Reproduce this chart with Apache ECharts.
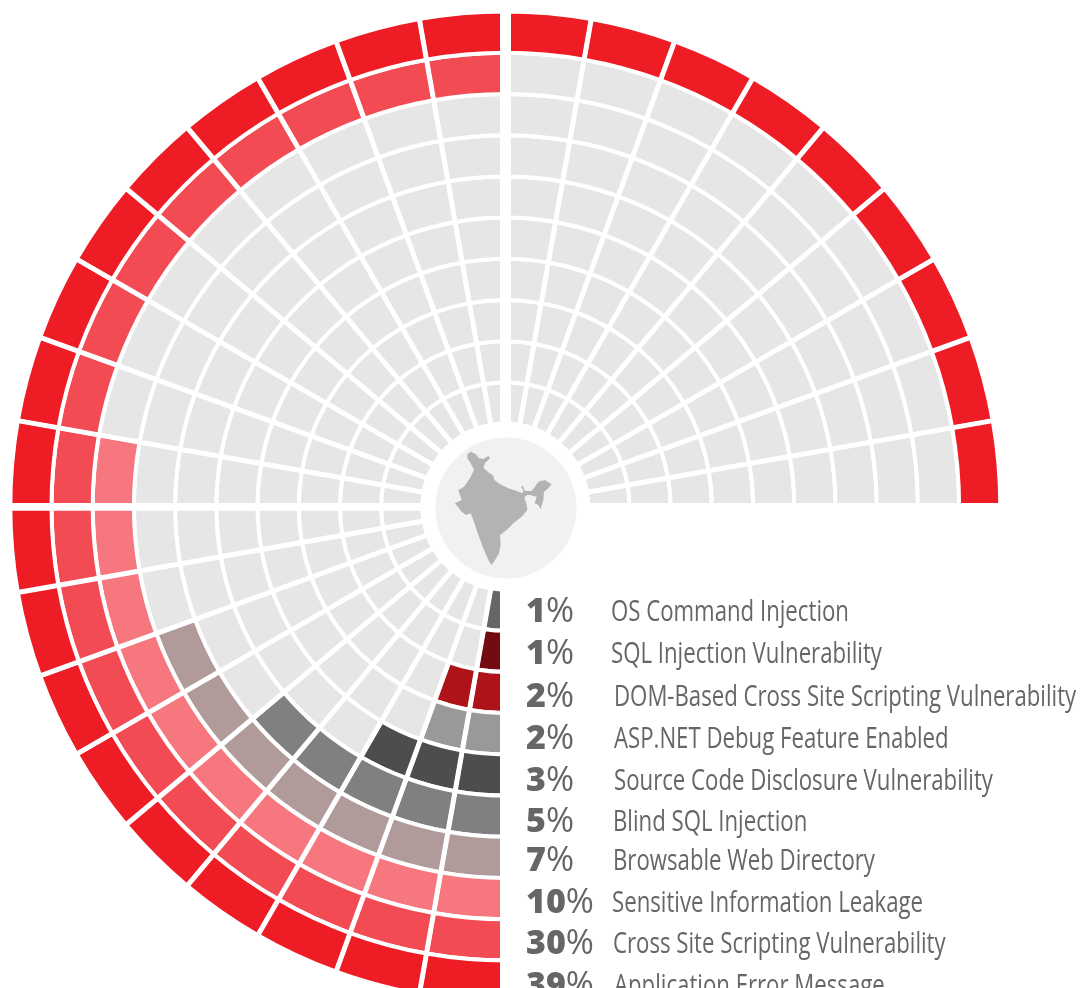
<!DOCTYPE html>
<html>
<head>
<meta charset="utf-8">
<title>Vulnerabilities</title>
<script src="https://cdn.jsdelivr.net/npm/echarts@6/dist/echarts.min.js"></script>
<style>
  html, body { margin: 0; padding: 0; background: #fff; }
  #chart { width: 1085px; height: 988px; }
</style>
</head>
<body>
<div id="chart"></div>
<script>
// innermost ring first, same order as the list under the chart
var categories = ['OS Command Injection', 'SQL Injection Vulnerability', 'DOM-Based Cross Site Scripting Vulnerability', 'ASP.NET Debug Feature Enabled', 'Source Code Disclosure Vulnerability', 'Blind SQL Injection', 'Browsable Web Directory', 'Sensitive Information Leakage', 'Cross Site Scripting Vulnerability', 'Application Error Message'];
var percents = [1, 1, 2, 2, 3, 5, 7, 10, 30, 39];
// how many cells of each ring are coloured, counted clockwise from 6 o'clock
var litCells = [1, 1, 2, 2, 3, 5, 7, 10, 18, 27];

var ringColors = ['#666666', '#740b11', '#ae1319', '#999999', '#4d4d4d', '#808080', '#b09a9a', '#f6787e', '#f34b53', '#ee1c25'];
var emptyColor = '#e6e6e6';
var textColor = '#666666';

var cellCount = 27;
var cellsInCircle = 36;

// list rows, the labels do not line up exactly in the original
var rowY = [612, 654, 697, 739, 781, 822, 861, 903, 944, 986];
var labelX = [611, 611, 614, 614, 614, 613, 613, 612, 613, 614];

// outline of India
var indiaShape = [[52,28],[62,20],[78,28],[85,38],[100,42],[115,33],[120,40],[105,55],[100,68],[115,82],[130,92],[133,105],[150,118],[175,130],[200,138],[217,145],[220,135],[213,125],[218,122],[225,138],[245,138],[255,125],[265,110],[285,105],[305,118],[295,130],[282,140],[280,165],[272,192],[265,180],[254,175],[260,155],[240,150],[230,150],[223,158],[230,180],[232,195],[215,215],[190,235],[170,255],[150,270],[152,300],[147,325],[135,345],[125,360],[115,345],[100,310],[85,270],[70,225],[62,205],[48,210],[35,200],[15,175],[35,165],[25,135],[42,125],[60,100],[72,75],[62,55],[52,40]];

var series = [];
for (var c = 0; c < cellCount; c++) {
    var values = [];
    for (var r = 0; r < categories.length; r++) {
        values.push({
            value: 1,
            itemStyle: { color: c < litCells[r] ? ringColors[r] : emptyColor }
        });
    }
    series.push({
        type: 'bar',
        coordinateSystem: 'polar',
        stack: 'cells',
        barWidth: '100%',
        barCategoryGap: '0%',
        silent: true,
        animation: false,
        itemStyle: { borderColor: '#fff', borderWidth: 4 },
        data: values
    });
}

// wider white gaps on the quadrant lines, then the centre
var graphics = [
    { type: 'rect', z: 100, shape: { x: 500, y: 0, width: 11, height: 988 }, style: { fill: '#fff' } },
    { type: 'rect', z: 100, shape: { x: 0, y: 503, width: 505, height: 7.7 }, style: { fill: '#fff' } },
    { type: 'rect', z: 100, shape: { x: 505, y: 503, width: 580, height: 14 }, style: { fill: '#fff' } },
    { type: 'circle', z: 101, shape: { cx: 506, cy: 508, r: 70.5 }, style: { fill: '#f1f1f1' } },
    { type: 'polygon', z: 102, x: 450, y: 445, scaleX: 1 / 3, scaleY: 1 / 3, shape: { points: indiaShape }, style: { fill: '#b3b3b3' } }
];

categories.forEach(function (name, i) {
    graphics.push({
        type: 'text', z: 103, x: 526, y: rowY[i],
        style: {
            text: '{n|' + percents[i] + '}{p|%}',
            verticalAlign: 'middle',
            rich: {
                n: { fontFamily: 'Open Sans', fontWeight: 800, fontSize: 34, fill: textColor },
                p: { fontFamily: 'Open Sans', fontWeight: 400, fontSize: 34, fill: textColor }
            }
        }
    });
    graphics.push({
        type: 'text', z: 103, x: labelX[i], y: rowY[i], scaleX: 0.74,
        style: {
            text: name,
            verticalAlign: 'middle',
            fontFamily: 'Open Sans',
            fontSize: 30,
            fill: textColor
        }
    });
});

var myChart = echarts.init(document.getElementById('chart'), null, { renderer: 'canvas' });
myChart.setOption({
    animation: false,
    backgroundColor: '#fff',
    polar: { center: [505.3, 506.6], radius: [83, 495] },
    angleAxis: {
        type: 'value', min: 0, max: cellsInCircle, interval: 1, startAngle: 270, clockwise: true, z: 5,
        axisLine: { show: false }, axisTick: { show: false }, axisLabel: { show: false },
        splitLine: { show: true, lineStyle: { color: '#fff', width: 5 } }
    },
    radiusAxis: { type: 'category', data: categories, show: false },
    graphic: { elements: graphics },
    series: series
});
</script>
</body>
</html>
